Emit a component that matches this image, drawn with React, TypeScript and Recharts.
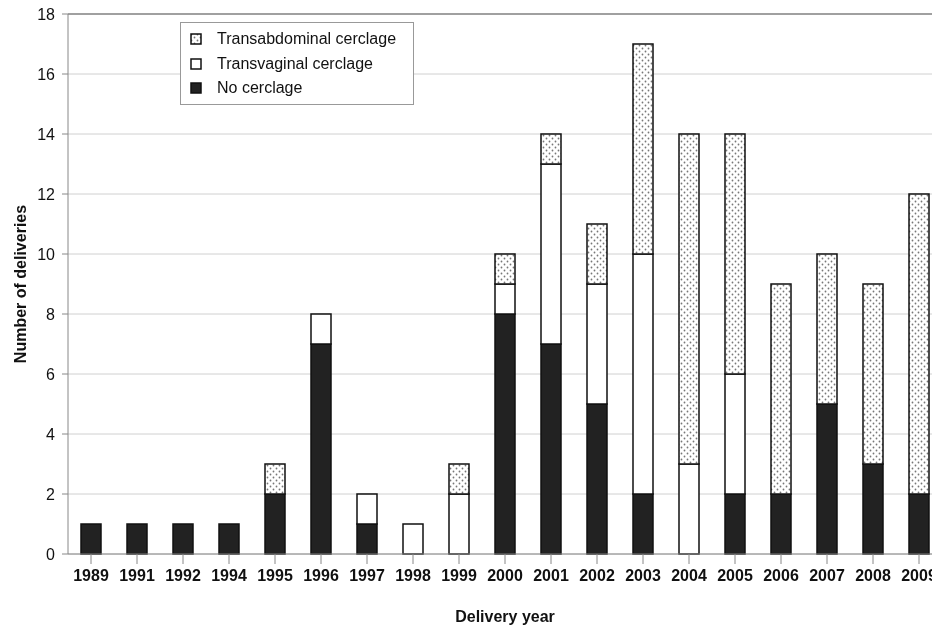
import React from "react";
import { BarChart, Bar, XAxis, YAxis, CartesianGrid, Label, ReferenceLine } from "recharts";

const years = ["1989","1991","1992","1994","1995","1996","1997","1998","1999","2000","2001","2002","2003","2004","2005","2006","2007","2008","2009"];
const noCerclage = [1,1,1,1,2,7,1,0,0,8,7,5,2,0,2,2,5,3,2];
const transvaginal = [0,0,0,0,0,1,1,1,2,1,6,4,8,3,4,0,0,0,0];
const transabdominal = [0,0,0,0,1,0,0,0,1,1,1,2,7,11,8,7,5,6,10];
const yTicks = [0,2,4,6,8,10,12,14,16,18];

const data = years.map((y, i) => ({ year: y, no: noCerclage[i], tv: transvaginal[i], ta: transabdominal[i] }));

const FONT = "'Liberation Sans', Arial, sans-serif";

const legendItems = [
  { label: "Transabdominal cerclage", fill: "url(#dots)" },
  { label: "Transvaginal cerclage", fill: "#ffffff" },
  { label: "No cerclage", fill: "#222222" },
];

const LegendBox = () => (
  <div style={{ position: "absolute", left: 172, top: 14, boxSizing: "border-box", border: "1px solid #999", background: "#fff", width: 234, height: 83, paddingTop: 4, fontFamily: FONT, fontSize: 16, color: "#111" }}>
    {legendItems.map((it) => (
      <div key={it.label} style={{ display: "flex", alignItems: "center", height: 24.5 }}>
        <svg width={12} height={12} style={{ marginLeft: 9, marginRight: 15 }}>
          <rect x={1} y={1} width={10} height={10} fill={it.fill} stroke="#111" strokeWidth={1.5} />
        </svg>
        <span>{it.label}</span>
      </div>
    ))}
  </div>
);

export default function App() {
  return (
    <div style={{ position: "fixed", left: 8, top: 8, width: 924, height: 618, overflow: "hidden" }}>
      <style>{"html,body{overflow:hidden}"}</style>
      <BarChart width={934} height={618} data={data} margin={{ top: 6, right: 0, bottom: 0, left: 0 }}>
        <defs>
          <pattern id="dots" width={6} height={6} patternUnits="userSpaceOnUse">
            <rect width={6} height={6} fill="#ffffff" />
            <circle cx={1.5} cy={1.5} r={0.9} fill="#777" />
            <circle cx={4.5} cy={4.5} r={0.9} fill="#777" />
          </pattern>
        </defs>
        <CartesianGrid vertical={false} stroke="#d0d0d0" strokeWidth={1} />
        <ReferenceLine y={18} stroke="#888" strokeWidth={1.5} />
        <XAxis
          dataKey="year"
          height={72}
          stroke="#888"
          tickSize={10}
          tickMargin={6}
          tick={{ fill: "#111", fontFamily: FONT, fontSize: 16, fontWeight: "bold" }}
          interval={0}
        >
          <Label value="Delivery year" position="insideBottom" offset={4} style={{ fill: "#111", fontFamily: FONT, fontSize: 16, fontWeight: "bold" }} />
        </XAxis>
        <YAxis
          domain={[0, 18]}
          ticks={yTicks}
          width={60}
          stroke="#888"
          tickSize={6}
          tickMargin={7}
          tick={{ fill: "#111", fontFamily: FONT, fontSize: 16 }}
          interval={0}
        >
          <Label value="Number of deliveries" angle={-90} position="insideLeft" offset={12} style={{ textAnchor: "middle", fill: "#111", fontFamily: FONT, fontSize: 16, fontWeight: "bold" }} />
        </YAxis>
        <Bar dataKey="no" stackId="a" barSize={20} fill="#222222" stroke="#111" strokeWidth={1.5} isAnimationActive={false} />
        <Bar dataKey="tv" stackId="a" barSize={20} fill="#ffffff" stroke="#111" strokeWidth={1.5} isAnimationActive={false} />
        <Bar dataKey="ta" stackId="a" barSize={20} fill="url(#dots)" stroke="#111" strokeWidth={1.5} isAnimationActive={false} />
      </BarChart>
      <LegendBox />
    </div>
  );
}
